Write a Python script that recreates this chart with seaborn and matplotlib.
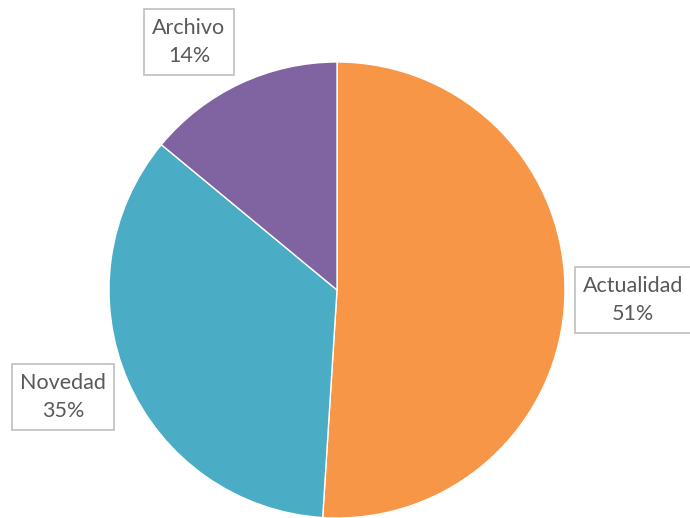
import matplotlib
matplotlib.use("Agg")
import matplotlib.pyplot as plt
import seaborn as sns

categories = ["Actualidad", "Novedad", "Archivo"]
values = [51, 35, 14]
colors = ["#F79646", "#4BACC6", "#8064A2"]

sns.set_theme(style="white")
plt.rcParams['font.family'] = ['Lato', 'DejaVu Sans']

fig = plt.figure(figsize=(6.9, 5.18), dpi=100)
ax = fig.add_axes([0, 0, 1, 1])

pal = sns.color_palette(colors)
wedges, texts = ax.pie(values, labels=[f"{c}\n{v}%" for c, v in zip(categories, values)],
                       colors=pal, startangle=90, counterclock=False,
                       center=(337, 228), radius=228, frame=True,
                       wedgeprops=dict(edgecolor="white", linewidth=1),
                       textprops=dict(color="#595959", fontsize=15.5, ha="center", va="center",
                                      linespacing=1.55))
ax.set_xlim(0, 690)
ax.set_ylim(0, 518)
ax.set_aspect('equal')
ax.axis('off')

label_pos = {"Actualidad": (633, 218), "Novedad": (63, 121), "Archivo": (189, 476)}
for t, c in zip(texts, categories):
    t.set_position(label_pos[c])
    t.set_ha("center")
    t.set_va("center")
    t.set_bbox(dict(boxstyle="square,pad=0.38", facecolor="white", edgecolor="#BFBFBF", linewidth=1.2))

fig.savefig("out.png", dpi=100)
